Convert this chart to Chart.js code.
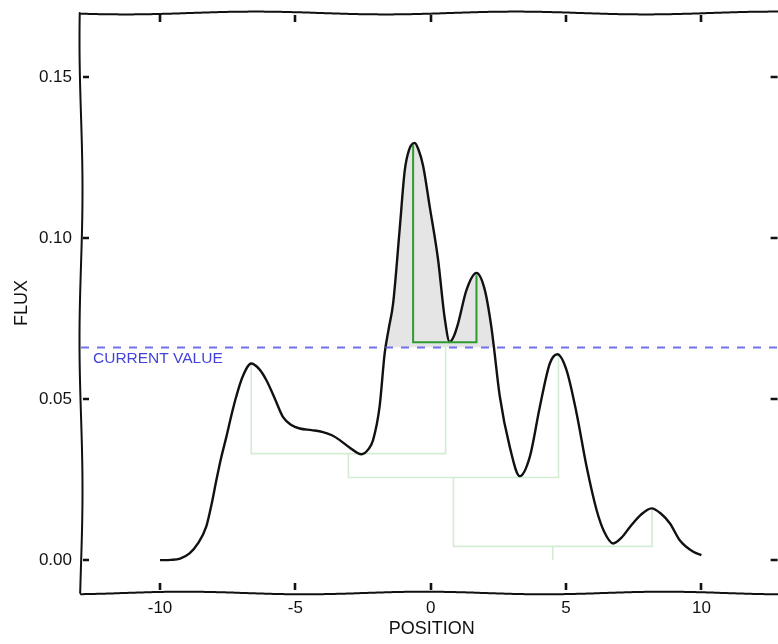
<!DOCTYPE html>
<html><head><meta charset="utf-8">
<script src="https://cdn.jsdelivr.net/npm/chart.js@4.4.1/dist/chart.umd.min.js"></script>
<style>html,body{margin:0;padding:0;overflow:hidden;background:#fff;width:778px;height:644px}canvas{display:block}</style>
</head><body>
<canvas id="c" width="784" height="644"></canvas>
<script>
// ---- data ----
const positions = [-10.00,-9.60,-9.26,-8.91,-8.60,-8.29,-8.10,-7.92,-7.75,-7.55,-7.37,-7.19,-6.95,-6.63,-6.35,-6.07,-5.75,-5.46,-5.15,-4.84,-4.40,-3.98,-3.65,-3.36,-3.00,-2.56,-2.30,-2.13,-1.89,-1.70,-1.55,-1.39,-1.15,-0.96,-0.80,-0.59,-0.45,-0.28,-0.04,0.27,0.52,0.70,0.85,1.01,1.32,1.69,2.00,2.24,2.33,2.55,2.92,3.29,3.66,4.03,4.40,4.68,5.02,5.39,5.76,6.13,6.40,6.74,7.05,7.36,7.75,8.16,8.50,8.84,9.20,9.70,10.00];
const flux = [0.0000,0.0001,0.0005,0.0021,0.0052,0.0105,0.0172,0.0248,0.0315,0.0383,0.0448,0.0507,0.0570,0.0611,0.0595,0.0559,0.0500,0.0445,0.0420,0.0409,0.0404,0.0398,0.0388,0.0373,0.0350,0.0329,0.0345,0.0373,0.0476,0.0643,0.0720,0.0797,0.1025,0.1210,0.1275,0.1296,0.1275,0.1225,0.1100,0.0935,0.0750,0.0678,0.0695,0.0735,0.0839,0.0892,0.0839,0.0725,0.0665,0.0510,0.0352,0.0261,0.0321,0.0476,0.0611,0.0640,0.0590,0.0456,0.0290,0.0155,0.0090,0.0052,0.0070,0.0103,0.0140,0.0161,0.0145,0.0114,0.0062,0.0026,0.0016];
const xTickValues = [-10, -5, 0, 5, 10];
const yTickValues = [0.00, 0.05, 0.10, 0.15];
const xRange = [-12.92, 13.0];
const yRange = [-0.0102, 0.17];
const currentValue = 0.0661;
const currentLabel = 'CURRENT VALUE';
const xTitle = 'POSITION';
const yTitle = 'FLUX';
// dendrogram brackets: [xLeft, topLeft, xRight, topRight, mergeLevel]
const treeBrackets = [
  [-6.63, 0.0611, 0.55, 0.0677, 0.0331],
  [-3.04, 0.0331, 4.72, 0.0640, 0.0257],
  [0.84, 0.0257, 8.18, 0.0161, 0.0043]
];
const treeTrunk = [4.51, 0.0043, 0.0];           // [x, top, bottom]
const selectedBracket = [-0.65, 0.1289, 1.69, 0.0885, 0.0677];

// ---- build datasets ----
const curvePts = positions.map((x, i) => ({x, y: flux[i]}));
function bracketPts(b) {
  return [{x:b[0],y:b[1]},{x:b[0],y:b[4]},{x:b[2],y:b[4]},{x:b[2],y:b[3]}];
}
const lightGreen = 'rgb(212,235,212)';
const treeSets = treeBrackets.map(b => ({
  data: bracketPts(b), borderColor: lightGreen, borderWidth: 1.6, pointRadius: 0, tension: 0, fill: false, order: 8
}));
treeSets.push({data:[{x:treeTrunk[0],y:treeTrunk[1]},{x:treeTrunk[0],y:treeTrunk[2]}], borderColor: lightGreen, borderWidth: 1.6, pointRadius: 0, fill: false, order: 8});

const datasets = [
  {data: curvePts, borderWidth: 0, borderColor: 'rgba(0,0,0,0)', pointRadius: 0, cubicInterpolationMode: 'monotone',
   fill: {target: {value: currentValue}, above: '#e5e5e5', below: 'rgba(0,0,0,0)'}, order: 10},
  ...treeSets,
  {data: curvePts, borderColor: '#111', borderWidth: 2.4, pointRadius: 0, cubicInterpolationMode: 'monotone', fill: false, order: 5},
  {data: bracketPts(selectedBracket), borderColor: '#2f9a2f', borderWidth: 2, pointRadius: 0, tension: 0, fill: false, order: 4},
  {data: [{x: xRange[0], y: currentValue}, {x: xRange[1], y: currentValue}], borderColor: 'rgba(80,80,235,0.8)', borderWidth: 2,
   borderDash: [8, 8], pointRadius: 0, fill: false, order: 1}
];

function wavy(ctx, x1, y1, x2, y2, amp, wl, ph) {
  const len = Math.hypot(x2 - x1, y2 - y1);
  const ux = (x2 - x1) / len, uy = (y2 - y1) / len;
  const nx = -uy, ny = ux;
  ctx.beginPath();
  for (let s = 0; s <= len; s += 2) {
    const o = amp * Math.sin(2 * Math.PI * s / wl + ph);
    const px = x1 + ux * s + nx * o, py = y1 + uy * s + ny * o;
    if (s === 0) ctx.moveTo(px, py); else ctx.lineTo(px, py);
  }
  ctx.stroke();
}

const decor = {
  id: 'decor',
  afterDatasetsDraw(chart) {
    const {ctx, chartArea: a, scales: {x, y}} = chart;
    ctx.save();
    // frame
    ctx.strokeStyle = '#111'; ctx.lineWidth = 2; ctx.lineCap = 'round';
    wavy(ctx, a.left, a.top, a.right, a.top, 1.4, 260, 0.5);
    wavy(ctx, a.left, a.bottom, a.right, a.bottom, 1.3, 240, 2.0);
    wavy(ctx, a.left, a.top, a.left, a.bottom, 1.5, 300, 1.0);
    wavy(ctx, a.right, a.top, a.right, a.bottom, 1.5, 300, 2.5);
    // inward ticks
    ctx.lineWidth = 2.6; ctx.lineCap = 'butt';
    ctx.beginPath();
    xTickValues.forEach(v => {
      const px = Math.round(x.getPixelForValue(v));
      ctx.moveTo(px, a.bottom - 3); ctx.lineTo(px, a.bottom - 10);
      ctx.moveTo(px, a.top + 2); ctx.lineTo(px, a.top + 9);
    });
    yTickValues.forEach(v => {
      const py = Math.round(y.getPixelForValue(v));
      ctx.moveTo(a.left + 2, py); ctx.lineTo(a.left + 8, py);
      ctx.moveTo(a.right - 12, py); ctx.lineTo(a.right - 5, py);
    });
    ctx.stroke();
    // current value label
    ctx.fillStyle = 'rgba(45,45,215,0.9)';
    ctx.font = '15.5px "Liberation Sans", sans-serif';
    ctx.textBaseline = 'middle'; ctx.textAlign = 'left';
    ctx.fillText(currentLabel, a.left + 12, y.getPixelForValue(currentValue) + 11);
    ctx.restore();
  }
};

const tickFont = {family: '"Liberation Sans", sans-serif', size: 17};
const titleFont = {family: '"Liberation Sans", sans-serif', size: 18};

new Chart(document.getElementById('c'), {
  type: 'line',
  data: {datasets},
  options: {
    responsive: false, animation: false, devicePixelRatio: 1,
    layout: {padding: {top: 13, right: 1.4, left: 0, bottom: 0}},
    plugins: {legend: {display: false}, tooltip: {enabled: false}},
    scales: {
      x: {
        type: 'linear', min: xRange[0], max: xRange[1],
        afterBuildTicks: s => { s.ticks = xTickValues.map(v => ({value: v})); },
        afterFit: s => { s.height = 51; s.paddingLeft = 0; s.paddingRight = 0; },
        grid: {display: false, drawTicks: false}, border: {display: false},
        ticks: {font: tickFont, color: '#111', padding: 5, maxRotation: 0, autoSkip: false, callback: v => String(v)},
        title: {display: true, text: xTitle, font: titleFont, color: '#111', padding: {top: 0, bottom: 4}}
      },
      y: {
        type: 'linear', min: yRange[0], max: yRange[1],
        afterBuildTicks: s => { s.ticks = yTickValues.map(v => ({value: v})); },
        afterFit: s => { s.width = 81; s.paddingTop = 0; s.paddingBottom = 0; },
        grid: {display: false, drawTicks: false}, border: {display: false},
        ticks: {font: tickFont, color: '#111', padding: 9, autoSkip: false, callback: v => Number(v).toFixed(2)},
        title: {display: true, text: yTitle, font: titleFont, color: '#111', padding: {top: 11, bottom: 0}}
      }
    }
  },
  plugins: [decor]
});
</script>
</body></html>
